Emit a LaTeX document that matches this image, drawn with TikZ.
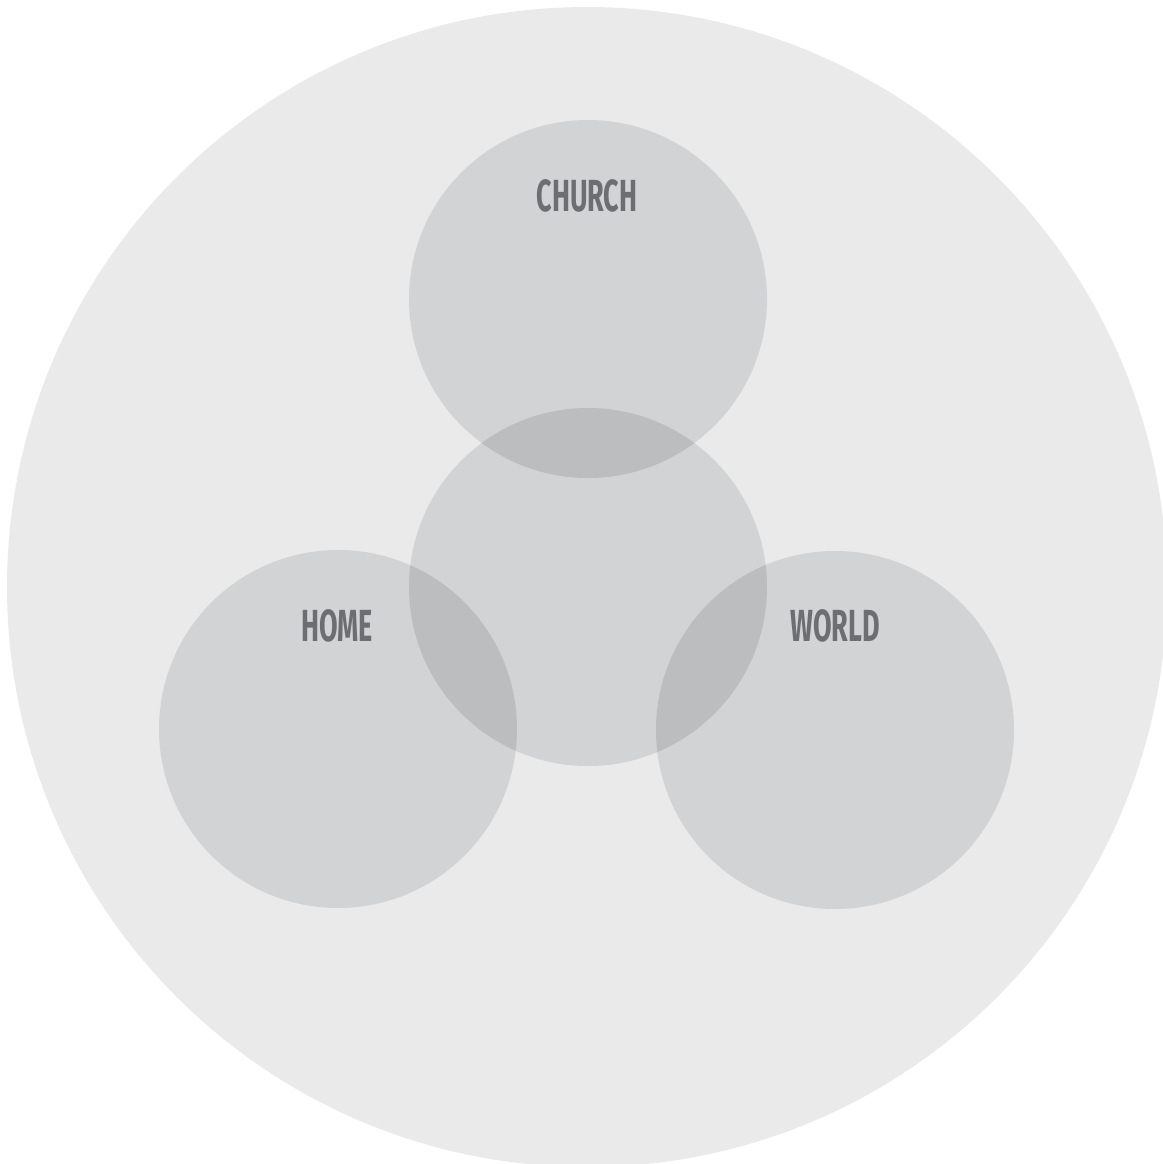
\documentclass[tikz,border=0pt]{standalone}
\usepackage{fontspec}
\setmainfont{Fira Sans}
\definecolor{outergray}{HTML}{EAEAEA}
\definecolor{ringgray}{HTML}{D2D3D5}
\definecolor{overlapgray}{HTML}{BCBDBF}
\definecolor{labelgray}{HTML}{6D6E71}
\tikzset{
  label text/.style={text=labelgray, inner sep=0pt, xscale=0.6,
    font=\fontsize{25.6}{26}\selectfont\bfseries},
}
\begin{document}
\begin{tikzpicture}[x=0.02cm, y=-0.02cm]
\useasboundingbox (0, 0) rectangle (1163, 1164);
\clip (0, 0) rectangle (1163, 1164);
% outer disc
\fill[outergray] (587, 587) circle (580);
% the four circles
\fill[ringgray] (588, 299) circle (179);
\fill[ringgray] (588, 587) circle (179);
\fill[ringgray] (338, 729) circle (179);
\fill[ringgray] (835, 730) circle (179);
% overlaps with the middle circle
\begin{scope}
  \clip (588, 587) circle (179);
  \fill[overlapgray] (588, 299) circle (179);
  \fill[overlapgray] (338, 729) circle (179);
  \fill[overlapgray] (835, 730) circle (179);
\end{scope}
% labels
\node[label text] (church) at (587, 195.5) {CHURCH};
\node[label text] (home) at (337, 625.5) {HOME};
\node[label text] (world) at (835, 626) {WORLD};
\end{tikzpicture}
\end{document}
